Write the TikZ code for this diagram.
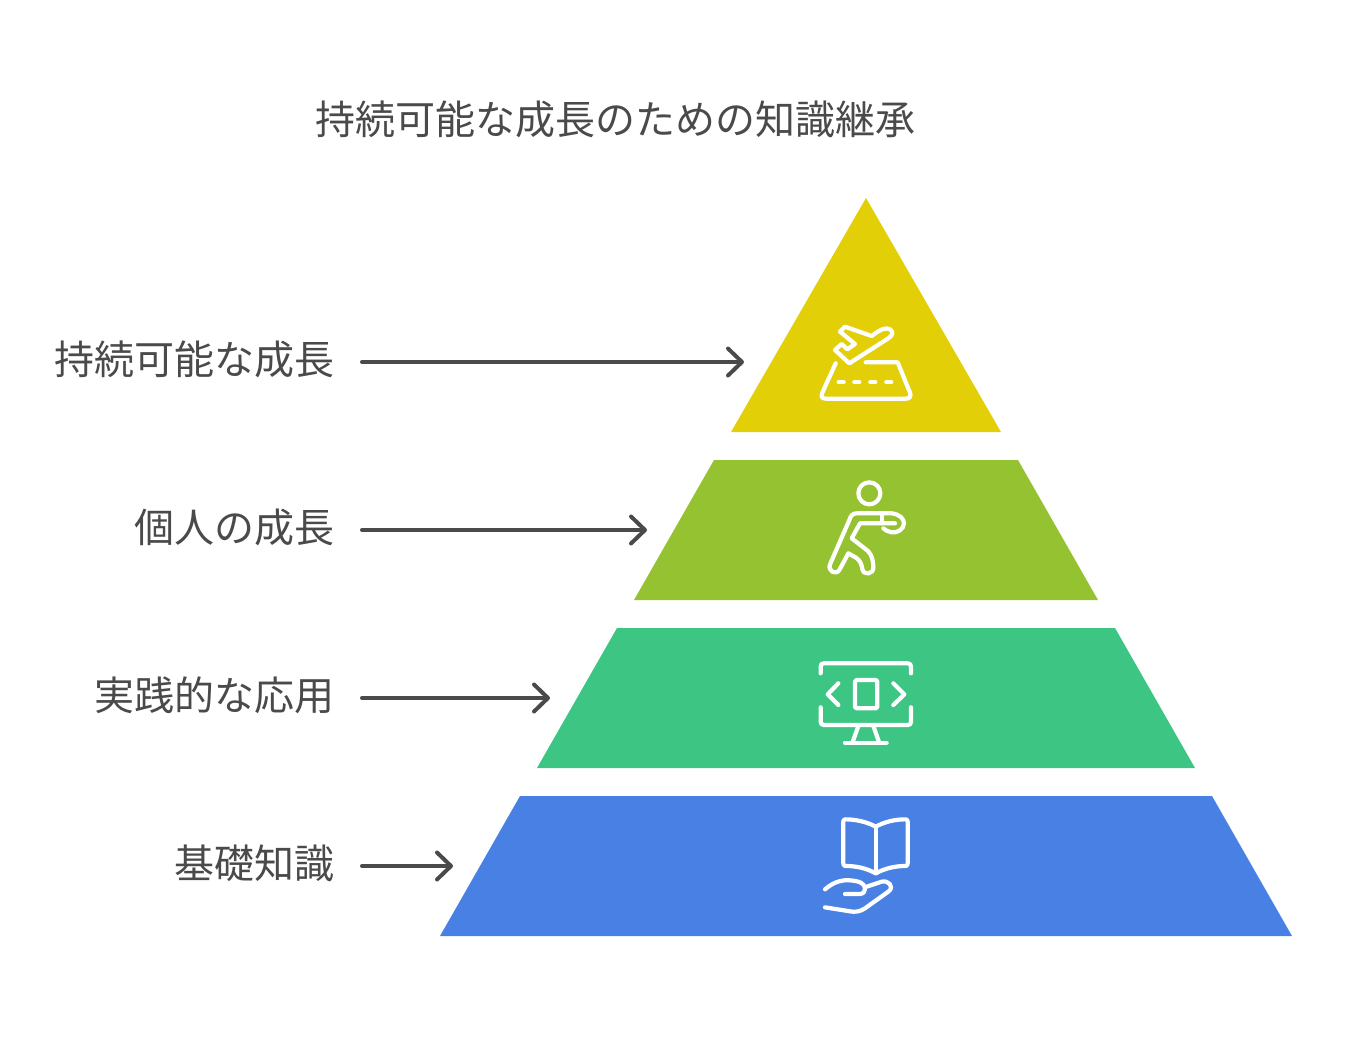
\documentclass[tikz,border=0pt]{standalone}
\usepackage{fontspec}
\setmainfont{Noto Sans CJK JP}
\usetikzlibrary{arrows.meta}
\definecolor{inktext}{HTML}{4A4A4A}
\definecolor{tieryellow}{HTML}{E3CF08}
\definecolor{tierlime}{HTML}{95C231}
\definecolor{tiergreen}{HTML}{3CC583}
\definecolor{tierblue}{HTML}{4880E4}
\tikzset{
  lab/.style={anchor=east,inner sep=0pt,text=inktext,font=\fontsize{40}{48}\selectfont},
  pointer/.style={draw=inktext,line width=4pt,shorten <=27pt,-{Straight Barb[length=14pt,width=27pt,round]},line cap=round},
  icon/.style={draw=white,line width=4.2pt,line cap=round,line join=round},
  zoomed/.style={x=0.3333pt,y=-0.3333pt}
}
\begin{document}
\begin{tikzpicture}[x=1pt,y=-1pt]
\useasboundingbox (0,0) rectangle (1346,1036);
% tiers
\fill [tieryellow] (866,198) -- (1001,432) -- (731,432) -- cycle;
\fill [tierlime] (714,460) -- (1018,460) -- (1098,600) -- (634,600) -- cycle;
\fill [tiergreen] (617,628) -- (1115,628) -- (1195,768) -- (537,768) -- cycle;
\fill [tierblue] (520,796) -- (1212,796) -- (1292,936) -- (440,936) -- cycle;
% texts
\node [lab,anchor=center] (title) at (615,119) {持続可能な成長のための知識継承};
\node [lab] (lab1) at (335,359.5) {持続可能な成長};
\node [lab] (lab2) at (335,527.5) {個人の成長};
\node [lab] (lab3) at (335,695.5) {実践的な応用};
\node [lab] (lab4) at (335,863.5) {基礎知識};
% pointers
\coordinate (tip1) at (744,362);
\coordinate (tip2) at (647,530);
\coordinate (tip3) at (550,698);
\coordinate (tip4) at (453,866);
\foreach \n in {1,...,4}
  \draw [pointer] (lab\n.east |- tip\n) -- (tip\n);
% plane and runway
\begin{scope}[shift={(800,310)},zoomed]
\draw [icon] (270,58) .. controls (258,52) and (245,55) .. (215,78) -- (135,50) -- (120,65) -- (165,102) -- (142,118) -- (125,102) -- (105,120) -- (148,160) -- (265,85) .. controls (280,75) and (280,65) .. (270,58) -- cycle;
\draw [icon] (107,160) -- (67,248) .. controls (62,260) and (65,266) .. (78,266) -- (318,266) .. controls (330,266) and (334,258) .. (330,248) -- (293,157) -- (197,157);
\foreach \a in {116,163,211,259}
  \draw [icon] (\a,217) -- ++(15,0);
\end{scope}
% person
\begin{scope}[shift={(810,475)},zoomed]
\draw [icon] (178,55) circle [radius=33];
\draw [icon] (215,115) -- (140,115) .. controls (128,115) and (122,122) .. (118,135) -- (60,268) .. controls (52,288) and (78,302) .. (88,285) -- (115,235) -- (138,248) .. controls (150,256) and (155,268) .. (157,282) .. controls (160,302) and (192,300) .. (190,275) .. controls (189,258) and (187,242) .. (174,228) -- (125,190) -- (150,145) -- (255,145);
\draw [icon] (215,115) -- (215,145);
\draw [icon] (215,115) -- (245,115) .. controls (270,118) and (282,132) .. (282,145) .. controls (282,162) and (262,175) .. (245,172) .. controls (235,170) and (225,166) .. (220,160);
\end{scope}
% monitor
\begin{scope}[shift={(805,650)},zoomed]
\draw [icon] (47,70) -- (47,50) .. controls (47,43) and (50,40) .. (57,40) -- (308,40) .. controls (315,40) and (318,43) .. (318,50) -- (318,70);
\draw [icon] (47,172) -- (47,215) .. controls (47,222) and (50,225) .. (57,225) -- (308,225) .. controls (315,225) and (318,222) .. (318,215) -- (318,172);
\draw [icon] (160,228) -- (143,276);
\draw [icon] (205,228) -- (222,276);
\draw [icon] (120,278) -- (245,278);
\draw [icon] (100,100) -- (68,133) -- (100,165);
\draw [icon] (265,100) -- (298,133) -- (265,165);
\draw [icon,rounded corners=1.5pt] (150,90) rectangle (217,175);
\end{scope}
% book in hand
\begin{scope}[shift={(810,810)},zoomed]
\draw [icon] (197,50) -- (197,190);
\draw [icon] (197,50) .. controls (170,35) and (135,28) .. (106,28) .. controls (102,28) and (100,30) .. (100,35) -- (100,160) .. controls (100,166) and (102,168) .. (108,168) .. controls (140,168) and (170,175) .. (197,190) .. controls (225,175) and (255,168) .. (286,168) .. controls (291,168) and (293,166) .. (293,160) -- (293,35) .. controls (293,30) and (291,28) .. (286,28) .. controls (255,28) and (225,35) .. (197,50) -- cycle;
\draw [icon] (45,238) .. controls (75,212) and (105,205) .. (145,215) .. controls (170,222) and (172,250) .. (150,252) -- (105,252);
\draw [icon] (170,230) -- (215,215) .. controls (235,210) and (255,230) .. (235,245) -- (165,295) .. controls (150,305) and (135,307) .. (120,304) -- (45,292);
\end{scope}
\end{tikzpicture}
\end{document}
